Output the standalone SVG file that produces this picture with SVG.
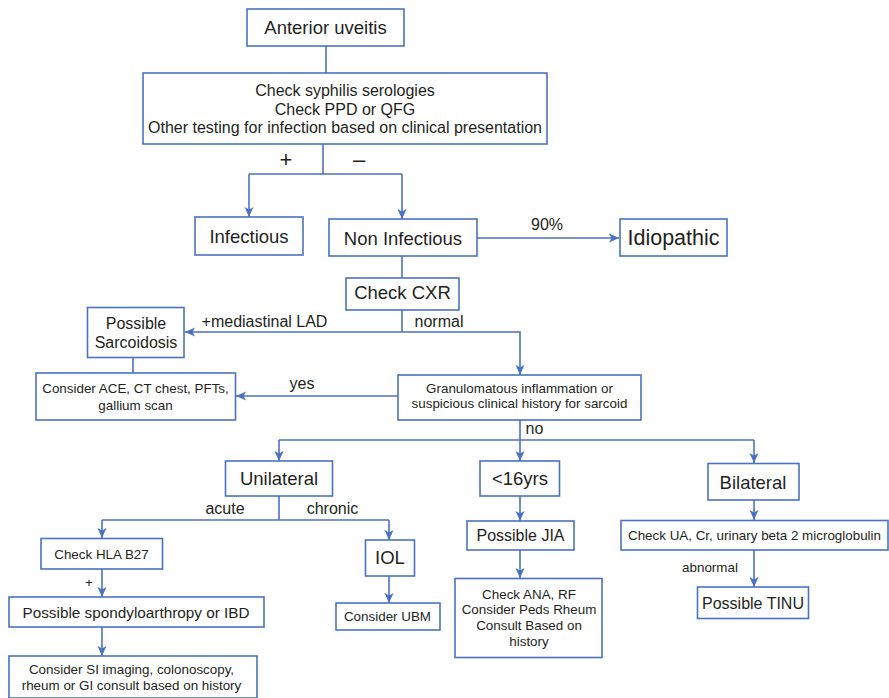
<svg xmlns="http://www.w3.org/2000/svg" width="889" height="698" viewBox="0 0 889 698">
<defs>
<style>
rect.b{fill:#fff;stroke:#4a72c2;stroke-width:1.6}
text{font-family:"Liberation Sans",Arial,sans-serif;fill:#231f20;text-anchor:middle}
.l{font-size:18.5px}
.m{font-size:16px}
.s{font-size:13.4px}
#edges path{fill:none;stroke:#4a72c2;stroke-width:1.6}
</style>
<marker id="ah" viewBox="0 0 10 10" refX="10" refY="5" markerWidth="10" markerHeight="10" markerUnits="userSpaceOnUse" orient="auto">
<path d="M0,0.5 L10,5 L0,9.5 L2.5,5 z" fill="#4a72c2"/>
</marker>
</defs>
<rect width="889" height="698" fill="#fff"/>
<g id="edges">
<path d="M326,46 V73"/>
<path d="M323,144 V174"/>
<path d="M249,174 H402"/>
<path d="M249,174 V217" marker-end="url(#ah)"/>
<path d="M402,174 V219" marker-end="url(#ah)"/>
<path d="M477,238 H619" marker-end="url(#ah)"/>
<path d="M402,256 V278"/>
<path d="M402,310 V332"/>
<path d="M402,332 H185" marker-end="url(#ah)"/>
<path d="M402,332 H520 V375" marker-end="url(#ah)"/>
<path d="M133,357 V373"/>
<path d="M398,396 H236" marker-end="url(#ah)"/>
<path d="M520,420 V440"/>
<path d="M279,440 H754"/>
<path d="M279,440 V461" marker-end="url(#ah)"/>
<path d="M520,440 V461" marker-end="url(#ah)"/>
<path d="M754,440 V463" marker-end="url(#ah)"/>
<path d="M279,496 V520"/>
<path d="M102,520 H389"/>
<path d="M102,520 V538" marker-end="url(#ah)"/>
<path d="M389,520 V540" marker-end="url(#ah)"/>
<path d="M102,569 V597" marker-end="url(#ah)"/>
<path d="M102,627 V656" marker-end="url(#ah)"/>
<path d="M389,576 V603" marker-end="url(#ah)"/>
<path d="M520,496 V521" marker-end="url(#ah)"/>
<path d="M520,550 V578" marker-end="url(#ah)"/>
<path d="M754,500 V520" marker-end="url(#ah)"/>
<path d="M754,550 V587" marker-end="url(#ah)"/>
</g>
<g id="edge-labels">
<text x="286" y="167" style="font-size:22px">+</text>
<text x="359" y="167" style="font-size:22px">–</text>
<text class="m" x="547" y="230">90%</text>
<text class="m" x="264.5" y="326.5">+mediastinal LAD</text>
<text class="m" x="439" y="326.5">normal</text>
<text class="m" x="302" y="388.5">yes</text>
<text class="m" x="534.5" y="434">no</text>
<text class="m" x="225" y="513.5">acute</text>
<text class="m" x="332.5" y="513.5">chronic</text>
<text class="s" x="89" y="587">+</text>
<text class="s" x="710" y="572">abnormal</text>
</g>
<g id="anterior-uveitis"><rect class="b" x="247" y="9" width="157" height="37"/><text class="l" x="325.5" y="34">Anterior uveitis</text></g>
<g id="check-serologies"><rect class="b" x="143" y="73" width="404" height="71"/>
<text class="m" x="345" y="96">Check syphilis serologies</text>
<text class="m" x="345" y="114.5">Check PPD or QFG</text>
<text class="m" x="345" y="133">Other testing for infection based on clinical presentation</text></g>
<g id="infectious"><rect class="b" x="195" y="217" width="108" height="38"/><text class="l" x="249" y="242.5">Infectious</text></g>
<g id="non-infectious"><rect class="b" x="329" y="219" width="148" height="37"/><text class="l" x="403" y="244.5">Non Infectious</text></g>
<g id="idiopathic"><rect class="b" x="620" y="219" width="107" height="37"/><text x="673.5" y="244.5" style="font-size:21.5px">Idiopathic</text></g>
<g id="check-cxr"><rect class="b" x="346" y="278" width="113" height="32"/><text class="l" x="402.5" y="298.5">Check CXR</text></g>
<g id="possible-sarcoidosis"><rect class="b" x="87.5" y="307.5" width="96.5" height="50"/>
<text class="m" x="136" y="328.5">Possible</text><text class="m" x="136" y="347.5">Sarcoidosis</text></g>
<g id="consider-ace"><rect class="b" x="36" y="373" width="199.5" height="47"/>
<text class="s" x="135.5" y="393">Consider ACE, CT chest, PFTs,</text><text class="s" x="135.5" y="409.5">gallium scan</text></g>
<g id="granulomatous"><rect class="b" x="398" y="375" width="243" height="45"/>
<text class="s" x="519.5" y="392.5">Granulomatous inflammation or</text><text class="s" x="519.5" y="407.5">suspicious clinical history for sarcoid</text></g>
<g id="unilateral"><rect class="b" x="225.5" y="461" width="107" height="35"/><text class="l" x="279" y="484.5">Unilateral</text></g>
<g id="under-16"><rect class="b" x="480" y="461" width="79.5" height="35"/><text class="l" x="520" y="484.5">&lt;16yrs</text></g>
<g id="bilateral"><rect class="b" x="708" y="463.5" width="91" height="36.5"/><text class="l" x="753" y="489">Bilateral</text></g>
<g id="check-hla"><rect class="b" x="41" y="538.5" width="121.5" height="30.5"/><text class="s" x="101.5" y="559">Check HLA B27</text></g>
<g id="iol"><rect class="b" x="365.5" y="540" width="49" height="36"/><text class="l" x="390" y="564">IOL</text></g>
<g id="possible-jia"><rect class="b" x="467" y="521" width="107" height="29"/><text class="m" x="520.5" y="541">Possible JIA</text></g>
<g id="check-ua"><rect class="b" x="621" y="520.5" width="267" height="29.5"/><text class="s" x="754.5" y="539.5">Check UA, Cr, urinary beta 2 microglobulin</text></g>
<g id="possible-spondylo"><rect class="b" x="9" y="597" width="255" height="30"/><text x="136" y="617.5" style="font-size:15.3px">Possible spondyloarthropy or IBD</text></g>
<g id="consider-ubm"><rect class="b" x="336" y="603" width="104" height="27"/><text class="s" x="387.5" y="621">Consider UBM</text></g>
<g id="check-ana"><rect class="b" x="455" y="578.5" width="147" height="79"/>
<text class="s" x="529" y="598.5">Check ANA, RF</text><text class="s" x="529" y="614">Consider Peds Rheum</text>
<text class="s" x="529" y="630">Consult Based on</text><text class="s" x="529" y="646">history</text></g>
<g id="possible-tinu"><rect class="b" x="697.5" y="587" width="111" height="31.5"/><text class="m" x="753" y="608.5">Possible TINU</text></g>
<g id="consider-si"><rect class="b" x="9" y="656" width="248" height="42"/>
<text class="s" x="131.5" y="674">Consider SI imaging, colonoscopy,</text><text class="s" x="131.5" y="690">rheum or GI consult based on history</text></g>
</svg>
